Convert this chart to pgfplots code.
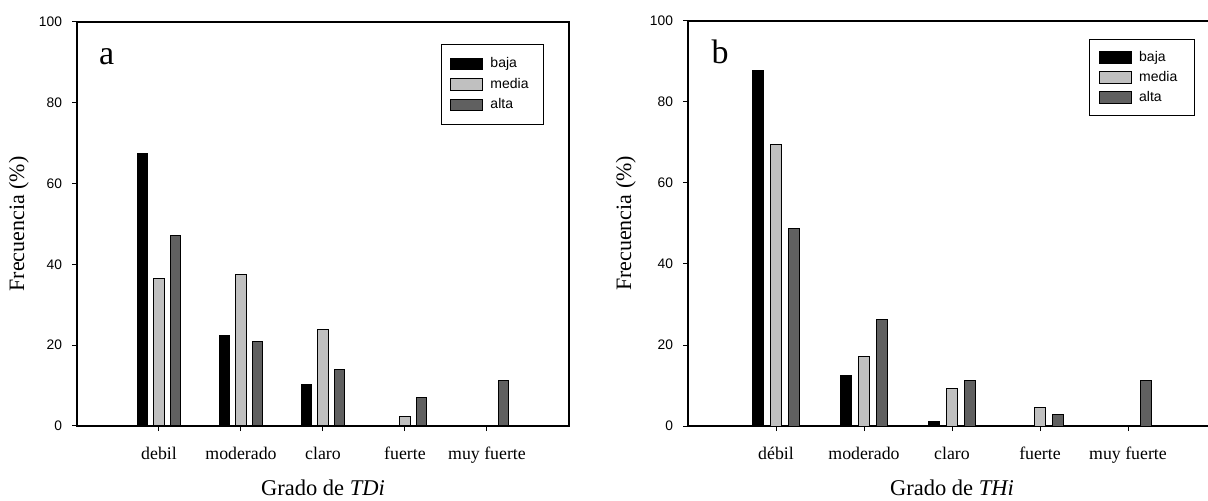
\documentclass[border=0pt]{standalone}
\usepackage{fontspec}
\setmainfont{Liberation Serif}
\newfontfamily\arial{Liberation Sans}
\usepackage{pgfplots}
\pgfplotsset{compat=1.18}
\definecolor{cmedia}{RGB}{192,192,192}
\definecolor{calta}{RGB}{96,96,96}
\pgfplotsset{
  swatch/.style={legend image code/.code={\draw[##1,line width=0.5pt] (0pt,-2.9pt) rectangle (16pt,2.9pt);}},
  panel/.style={
    scale only axis, anchor=south west,
    xmin=0, xmax=6, ymin=0, ymax=100,
    xtick={1,2,3,4,5}, ytick={0,20,40,60,80,100},
    tick align=outside, major tick length=2.5pt,
    xtick pos=left, ytick pos=left,
    axis line style={line width=0.6pt, black},
    tick style={line width=0.5pt, black},
    /pgf/number format/assume math mode=true,
    yticklabel style={font=\arial\fontsize{6.9}{8}\selectfont, xshift=-1.5pt},
    xticklabel style={font=\fontsize{8.9}{10}\selectfont, anchor=base, yshift=-14pt},
    xlabel style={font=\fontsize{11.25}{13}\selectfont, at={(axis description cs:0.5,-0.153)}, anchor=center},
    ylabel style={font=\fontsize{11}{13}\selectfont, at={(axis description cs:-0.118,0.5)}, anchor=center},
    ylabel={Frecuencia (\%)},
    legend cell align=left,
    legend style={draw=black, line width=0.5pt, anchor=north west,
      font=\arial\fontsize{7}{8}\selectfont,
      inner xsep=4.7pt, inner ysep=6.2pt, row sep=3.5pt, column sep=3.5pt,
      nodes={inner sep=0pt, text height=5.3pt, text depth=1.5pt}},
  },
  bb/.style={ybar, bar width=0.125, bar shift=-0.2, fill=black, draw=black, line width=0.5pt, swatch},
  bm/.style={ybar, bar width=0.125, bar shift=0, fill=cmedia, draw=black, line width=0.5pt, swatch},
  ba/.style={ybar, bar width=0.125, bar shift=0.2, fill=calta, draw=black, line width=0.5pt, swatch},
}
\begin{document}
\begin{tikzpicture}
\begin{axis}[panel, at={(38.5pt,-213pt)}, width=246pt, height=202pt,
  xticklabels={debil,moderado,claro,fuerte,muy fuerte},
  xlabel={Grado de \textit{TDi}},
  legend style={at={(0.739,0.945)}}]
\addplot[bb] coordinates {(1,67.4) (2,22.5) (3,10.2)};
\addplot[bm] coordinates {(1,36.4) (2,37.4) (3,23.9) (4,2.4)};
\addplot[ba] coordinates {(1,47.2) (2,20.9) (3,14.0) (4,7.1) (5,11.2)};
\legend{baja,media\hspace*{2.5pt},alta}
\node[anchor=base west, inner sep=0pt, font=\fontsize{17}{17}\selectfont] at (rel axis cs:0.044,0.896) {a};
\end{axis}
\begin{axis}[panel, at={(344pt,-213pt)}, width=264pt, height=202.5pt,
  xticklabels={débil,moderado,claro,fuerte,muy fuerte},
  xlabel={Grado de \textit{THi}},
  legend style={at={(0.760,0.956)}, inner ysep=5.8pt, row sep=3.1pt}]
\addplot[bb] coordinates {(1,87.8) (2,12.4) (3,1.2)};
\addplot[bm] coordinates {(1,69.4) (2,17.1) (3,9.2) (4,4.6)};
\addplot[ba] coordinates {(1,48.7) (2,26.4) (3,11.2) (4,2.8) (5,11.2)};
\legend{baja,media\hspace*{4pt},alta}
\node[anchor=base west, inner sep=0pt, font=\fontsize{17}{17}\selectfont] at (rel axis cs:0.044,0.896) {b};
\end{axis}
\pgfresetboundingbox
\path[use as bounding box] (0pt,0pt) rectangle (604pt,-250.5pt);
\end{tikzpicture}
\end{document}
